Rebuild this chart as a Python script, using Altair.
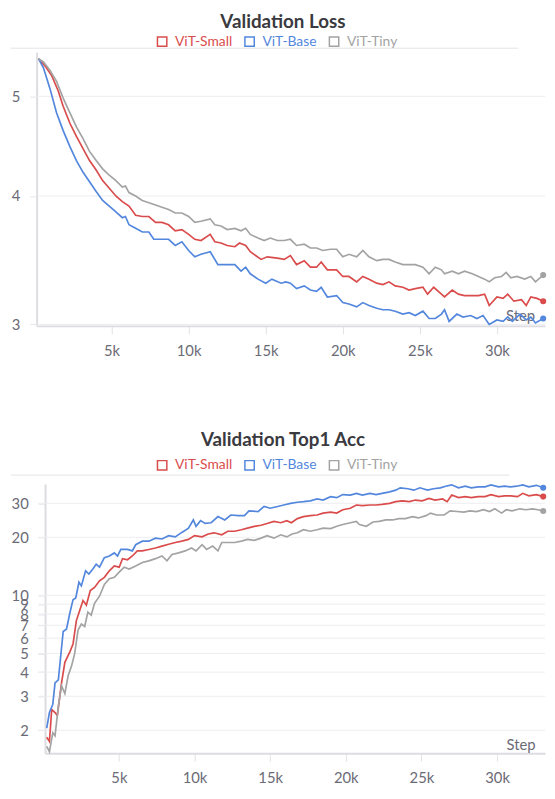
import altair as alt
import pandas as pd

SERIES = ["ViT-Small", "ViT-Base", "ViT-Tiny"]
COLORS = ["#DA4C4C", "#5387DD", "#A3A3A3"]
FONT = "Lato"

# ---------------- Validation Loss ----------------
loss_small_step = [260, 690, 1110, 1540, 1860, 2290, 2720, 3140, 3570, 4000,
                   4420, 4850, 5280, 5700, 6130, 6560, 7000, 7420, 7850, 8270,
                   8700, 9130, 9560, 10000, 10400, 10800, 11400, 11700, 12100, 12500,
                   13000, 13300, 13700, 14000, 14700, 15100, 15750, 16200, 16600, 17000,
                   17500, 17900, 18300, 18600, 19000, 19600, 20000, 20400, 20900, 21300,
                   21700, 22200, 22600, 23000, 23400, 23900, 24300, 24700, 25200, 25500,
                   25900, 26200, 26600, 27100, 27500, 27900, 28400, 28800, 29200, 29500,
                   30000, 30400, 30700, 31100, 31600, 31900, 32200, 32600, 33000]
loss_small = [5.44, 5.35, 5.24, 5.06, 4.89, 4.71, 4.57, 4.45, 4.33, 4.24,
              4.14, 4.07, 4.00, 3.95, 3.91, 3.83, 3.82, 3.82, 3.77, 3.77,
              3.75, 3.70, 3.71, 3.67, 3.63, 3.62, 3.67, 3.61, 3.60, 3.58,
              3.57, 3.60, 3.58, 3.53, 3.47, 3.49, 3.48, 3.47, 3.50, 3.43,
              3.46, 3.41, 3.41, 3.45, 3.39, 3.39, 3.34, 3.34, 3.30, 3.34,
              3.32, 3.29, 3.28, 3.30, 3.27, 3.26, 3.24, 3.25, 3.26, 3.21,
              3.26, 3.23, 3.19, 3.24, 3.21, 3.20, 3.20, 3.20, 3.21, 3.13,
              3.19, 3.18, 3.21, 3.16, 3.17, 3.13, 3.19, 3.18, 3.16]

loss_base_step = [260, 580, 1000, 1430, 1860, 2290, 2720, 3140, 3570, 4000,
                  4420, 4850, 5280, 5700, 5900, 6130, 6560, 7000, 7420, 7740,
                  8270, 8700, 9130, 9560, 10000, 10400, 10800, 11400, 11900, 12500,
                  13000, 13400, 13700, 14000, 14500, 15000, 15400, 16000, 16300, 16600,
                  17000, 17500, 17900, 18300, 18600, 19000, 19600, 20000, 20400, 20900,
                  21300, 21700, 22200, 22600, 23000, 23400, 23900, 24300, 24700, 25200,
                  25600, 26000, 26400, 26600, 26900, 27400, 27800, 28300, 28700, 29100,
                  29500, 30000, 30400, 30700, 31000, 31500, 31900, 32200, 32500, 33000]
loss_base = [5.44, 5.33, 5.09, 4.82, 4.63, 4.47, 4.33, 4.22, 4.13, 4.04,
             3.96, 3.91, 3.86, 3.81, 3.82, 3.75, 3.72, 3.69, 3.69, 3.63,
             3.63, 3.63, 3.58, 3.61, 3.54, 3.49, 3.51, 3.53, 3.43, 3.43,
             3.43, 3.38, 3.41, 3.36, 3.32, 3.29, 3.32, 3.29, 3.30, 3.29,
             3.25, 3.27, 3.24, 3.23, 3.26, 3.19, 3.20, 3.15, 3.14, 3.12,
             3.15, 3.13, 3.11, 3.10, 3.10, 3.09, 3.07, 3.08, 3.06, 3.09,
             3.04, 3.04, 3.07, 3.10, 3.02, 3.07, 3.05, 3.06, 3.04, 3.06,
             3.00, 3.03, 3.02, 3.05, 3.02, 3.07, 3.03, 3.05, 3.01, 3.04]

loss_tiny_step = [260, 580, 1000, 1430, 1860, 2290, 2720, 3140, 3570, 4000,
                  4420, 4850, 5280, 5700, 5900, 6130, 6560, 6990, 7420, 7850,
                  8270, 8700, 9130, 9560, 10000, 10400, 10800, 11400, 11700, 12100,
                  12500, 13000, 13400, 13700, 14000, 14500, 14900, 15300, 15750, 16200,
                  16600, 17000, 17500, 17900, 18300, 18700, 19200, 19600, 20000, 20400,
                  20900, 21300, 21700, 22200, 22600, 23000, 23400, 23900, 24300, 24700,
                  25200, 25600, 26000, 26400, 26600, 27100, 27500, 27900, 28400, 28800,
                  29200, 29500, 29850, 30300, 30600, 30900, 31300, 31800, 32200, 32500,
                  33000]
loss_tiny = [5.44, 5.40, 5.30, 5.17, 4.98, 4.82, 4.67, 4.55, 4.42, 4.33,
             4.25, 4.19, 4.14, 4.08, 4.09, 4.03, 4.00, 3.96, 3.94, 3.92,
             3.90, 3.88, 3.85, 3.85, 3.82, 3.77, 3.78, 3.80, 3.75, 3.74,
             3.71, 3.72, 3.70, 3.72, 3.67, 3.64, 3.62, 3.64, 3.62, 3.62,
             3.63, 3.58, 3.59, 3.56, 3.56, 3.54, 3.55, 3.55, 3.49, 3.51,
             3.49, 3.54, 3.49, 3.46, 3.47, 3.47, 3.45, 3.43, 3.43, 3.43,
             3.41, 3.36, 3.41, 3.39, 3.36, 3.38, 3.36, 3.38, 3.36, 3.34,
             3.32, 3.30, 3.33, 3.34, 3.37, 3.33, 3.34, 3.32, 3.34, 3.30,
             3.35]

# ---------------- Validation Top1 Acc ----------------
acc_small_step = [230, 410, 560, 780, 930, 1210, 1430, 1760, 1970, 2190,
                  2410, 2630, 2850, 3110, 3390, 3720, 4040, 4370, 4700, 5020,
                  5240, 5570, 5890, 6220, 6550, 6980, 7420, 7850, 8290, 8730,
                  9160, 9600, 10000, 10500, 10900, 11300, 11800, 12200, 12650, 13100,
                  13500, 13950, 14400, 14800, 15250, 15700, 16100, 16400, 16800, 17200,
                  17650, 18100, 18500, 19000, 19400, 19800, 20300, 20700, 21100, 21600,
                  22000, 22400, 22900, 23300, 23750, 24200, 24600, 25050, 25500, 25900,
                  26400, 26700, 27000, 27450, 27900, 28300, 28750, 29200, 29600, 30100,
                  30500, 30900, 31350, 31700, 32100, 32600, 33050]
acc_small = [1.84, 1.75, 2.56, 2.47, 2.38, 3.52, 4.5, 5.1, 5.6, 7.4,
             8.35, 9.4, 8.9, 10.6, 11.0, 11.9, 12.4, 13.4, 14.2, 14.0,
             15.5, 15.3, 16.0, 17.0, 17.0, 17.3, 17.6, 18.0, 18.4, 18.8,
             19.1, 19.5, 20.4, 20.1, 20.8, 21.1, 20.6, 21.5, 21.5, 21.9,
             22.3, 22.8, 23.1, 23.6, 24.2, 23.8, 24.4, 23.8, 25.0, 25.6,
             25.9, 26.1, 26.7, 27.0, 26.7, 27.8, 28.3, 29.4, 29.2, 29.4,
             29.4, 29.6, 30.0, 30.6, 30.9, 30.6, 31.2, 30.9, 31.8, 31.2,
             31.6, 30.6, 33.1, 32.1, 32.5, 32.1, 32.5, 32.5, 33.3, 32.5,
             32.8, 32.8, 32.5, 33.8, 32.8, 33.3, 32.5]

acc_base_step = [230, 410, 630, 780, 1000, 1150, 1320, 1540, 1760, 1970,
                 2150, 2360, 2520, 2800, 3020, 3280, 3500, 3720, 4040, 4370,
                 4700, 4910, 5130, 5570, 5890, 6110, 6550, 6980, 7420, 7850,
                 8290, 8730, 9160, 9600, 9920, 10100, 10400, 10700, 11100, 11550,
                 12000, 12400, 12900, 13300, 13600, 14200, 14600, 15000, 15500, 15900,
                 16350, 16800, 17200, 17650, 18100, 18500, 19000, 19400, 19800, 20300,
                 20700, 21100, 21600, 22000, 22400, 22900, 23300, 23600, 24100, 24500,
                 24900, 25400, 25800, 26250, 26600, 27000, 27450, 27900, 28300, 28750,
                 29200, 29600, 30100, 30500, 30900, 31300, 31700, 32100, 32600, 33050]
acc_base = [2.05, 2.47, 2.72, 3.52, 3.65, 4.8, 6.5, 6.7, 8.1, 9.5,
            9.7, 11.7, 11.2, 13.4, 12.9, 13.7, 14.5, 14.0, 15.7, 16.0,
            16.6, 16.0, 17.3, 17.3, 17.0, 18.3, 19.1, 19.1, 19.8, 19.6,
            20.4, 20.1, 21.2, 22.3, 24.6, 22.8, 24.4, 23.6, 23.8, 25.6,
            24.6, 26.1, 25.9, 25.9, 27.4, 27.2, 28.9, 28.3, 28.9, 29.4,
            30.0, 30.4, 30.6, 30.9, 31.6, 31.2, 32.5, 32.1, 33.3, 33.1,
            33.8, 33.1, 33.8, 33.3, 33.8, 34.4, 35.1, 36.1, 35.7, 35.1,
            36.1, 35.1, 35.7, 36.1, 36.8, 37.4, 36.1, 36.8, 36.1, 36.5,
            36.5, 37.4, 36.5, 36.8, 36.5, 36.8, 37.4, 36.5, 37.2, 36.1]

acc_tiny_step = [230, 410, 630, 780, 1000, 1210, 1430, 1650, 1870, 2080,
                 2300, 2520, 2740, 2950, 3170, 3390, 3720, 4040, 4370, 4700,
                 5020, 5350, 5680, 6110, 6550, 6980, 7420, 7850, 8180, 8510,
                 8950, 9380, 9810, 10100, 10500, 10800, 11200, 11550, 11800, 12200,
                 12650, 13100, 13500, 13950, 14400, 14800, 15250, 15700, 16100, 16450,
                 16800, 17200, 17650, 18100, 18500, 19000, 19400, 19800, 20300, 20700,
                 20900, 21350, 21800, 22200, 22650, 23100, 23500, 23950, 24400, 24800,
                 25300, 25600, 26000, 26500, 26900, 27350, 27800, 28200, 28650, 29100,
                 29500, 29850, 30300, 30600, 31000, 31500, 31900, 32350, 32700, 33050]
acc_tiny = [1.65, 1.55, 1.94, 1.87, 2.67, 3.4, 3.1, 3.85, 4.3, 5.0,
            6.6, 7.1, 6.9, 8.2, 7.9, 9.1, 9.9, 11.4, 12.2, 12.4,
            13.2, 14.0, 13.7, 14.2, 14.8, 15.1, 15.5, 16.0, 15.1, 16.3,
            16.6, 17.0, 17.6, 17.0, 18.3, 17.3, 18.0, 17.0, 18.8, 18.8,
            18.8, 19.1, 19.5, 19.3, 19.8, 20.4, 19.8, 20.6, 20.1, 20.8,
            21.1, 21.9, 21.5, 21.9, 22.3, 22.2, 22.8, 23.3, 23.8, 24.2,
            23.3, 22.8, 24.0, 24.2, 24.6, 24.6, 25.0, 25.0, 25.6, 25.2,
            25.9, 26.7, 26.1, 26.1, 27.4, 27.2, 27.0, 27.4, 27.2, 27.8,
            27.2, 28.1, 26.7, 27.8, 27.4, 28.1, 27.8, 28.1, 27.8, 27.4]

loss_ticks = [3, 4, 5]
acc_ticks = [2, 3, 4, 5, 6, 7, 8, 9, 10, 20, 30]
step_ticks = [5000, 10000, 15000, 20000, 25000, 30000]


def make_df(steps, vals):
    frames = [pd.DataFrame({"step": s, "value": v, "run": n})
              for n, s, v in zip(SERIES, steps, vals)]
    return pd.concat(frames, ignore_index=True)


df_loss = make_df([loss_small_step, loss_base_step, loss_tiny_step],
                  [loss_small, loss_base, loss_tiny])
df_acc = make_df([acc_small_step, acc_base_step, acc_tiny_step],
                 [acc_small, acc_base, acc_tiny])

LABEL_EXPR = ("datum.value == 'ViT-Small' ? '#DA4C4C' : "
              "datum.value == 'ViT-Base' ? '#5387DD' : '#A3A3A3'")
AXIS_GRAY = "#dcdce1"
GRID_GRAY = "#ededf1"
TEXT_GRAY = "#6b6b76"
PLOT_W = 514.5


def panel(df, title, ticks, xdomain, xrange, ydomain, height, y_offset,
          legend_y, sep_x, sep_x2, sep_y, step_x, step_y, title_offset):
    color = alt.Color(
        "run:N",
        scale=alt.Scale(domain=SERIES, range=COLORS),
        legend=alt.Legend(
            orient="none", legendX=120, legendY=legend_y,
            direction="horizontal", title=None,
            symbolType="square", symbolSize=90, symbolStrokeWidth=1.5,
            symbolFillColor="white",
            labelFont=FONT, labelFontSize=14,
            labelColor=alt.ExprRef(expr=LABEL_EXPR),
            columnPadding=9.5, labelOffset=6, padding=0,
        ),
    )
    if xrange is not None:
        xscale = alt.Scale(domain=xdomain, range=xrange, nice=False, zero=False)
    else:
        xscale = alt.Scale(domain=xdomain, nice=False, zero=False)
    x = alt.X(
        "step:Q",
        scale=xscale,
        axis=alt.Axis(
            values=step_ticks, labelExpr="datum.value / 1000 + 'k'",
            grid=False, domainColor=AXIS_GRAY, domainWidth=2,
            tickColor="#e2e2e7", tickSize=8, tickWidth=1,
            labelFont=FONT, labelFontSize=15, labelColor=TEXT_GRAY,
            labelPadding=10, labelFlush=False,
            title="Step", titleFont=FONT, titleFontSize=15,
            titleFontWeight="normal", titleColor=TEXT_GRAY,
            titleX=step_x, titleY=step_y, titleAlign="right",
            titleBaseline="alphabetic", titleAngle=0,
        ),
    )
    y = alt.Y(
        "value:Q",
        scale=alt.Scale(type="log", domain=ydomain, nice=False, zero=False),
        axis=alt.Axis(
            values=ticks, format="d", labelOverlap=False,
            grid=False, offset=y_offset,
            domainColor=AXIS_GRAY, domainWidth=2,
            tickColor="#e6e6ea", tickSize=7, tickWidth=1,
            labelFont=FONT, labelFontSize=15, labelColor=TEXT_GRAY,
            labelPadding=10, title=None,
        ),
    )
    grid_start = max(0.0, -y_offset - 7)
    grid = alt.Chart(pd.DataFrame({"value": ticks})).mark_rule(
        color=GRID_GRAY, strokeWidth=1).encode(
        y=y, x=alt.value(grid_start), x2=alt.value(PLOT_W))
    sep = alt.Chart(pd.DataFrame({"k": [0]})).mark_rule(
        color="#e4e4e9", strokeWidth=1).encode(
        x=alt.value(sep_x), x2=alt.value(sep_x2), y=alt.value(sep_y))
    lines = alt.Chart(df).mark_line(strokeWidth=1.7).encode(x=x, y=y, color=color)
    last = df.groupby("run", sort=False).tail(1)
    dots = [
        alt.Chart(last[last["run"] == name]).mark_circle(
            size=38, opacity=1, color=col).encode(x=x, y=y)
        for name, col in zip(SERIES, COLORS)
    ]
    return alt.layer(grid, sep, lines, *dots).properties(
        width=PLOT_W, height=height,
        title=alt.TitleParams(
            text=title, font=FONT, fontSize=19, fontWeight="bold",
            color="#3a3a40", anchor="middle", dx=-8, offset=title_offset,
        ),
    )


top = panel(df_loss, "Validation Loss", loss_ticks,
            [140, 33120], None, [2.99, 5.52], 277, 0,
            -17.8, -26.5, 487.5, -4, 504, -5, 2.5)
bottom = panel(df_acc, "Validation Top1 Acc", acc_ticks,
               [120, 33170], [8.5, PLOT_W], [1.52, 37.8], 272.5, -8.5,
               -26, -25.9, 478.5, -9, 504.5, -4, 8)

chart = alt.concat(top, bottom, columns=1, spacing=74).resolve_scale(
    color="independent", x="independent", y="independent"
).properties(
    padding={"left": 2, "top": 0, "right": 0, "bottom": -3}
).configure_view(stroke=None)

chart.save("out.html", embed_options={"renderer": "svg", "actions": False})
